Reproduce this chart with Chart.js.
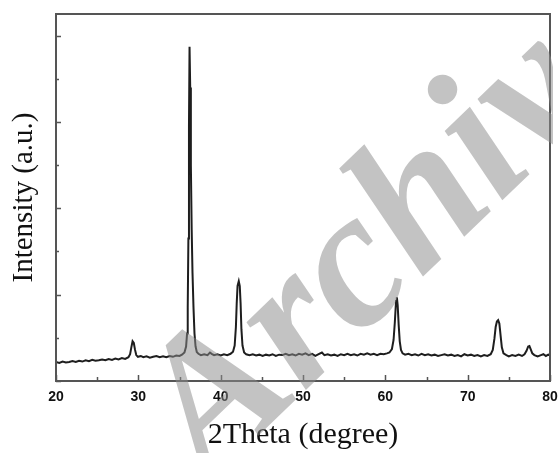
<!DOCTYPE html>
<html>
<head>
<meta charset="utf-8">
<script src="https://cdn.jsdelivr.net/npm/chart.js@4.4.1/dist/chart.umd.min.js"></script>
<style>
  html, body { margin: 0; padding: 0; background: #fff; }
  #wrap { position: relative; width: 560px; height: 453px; overflow: hidden; }
  #chart { position: absolute; left: 0; top: 0; }
  #wmClip { position: absolute; left: 0; top: 0; width: 553px; height: 453px; overflow: hidden; pointer-events: none; }
  #wm {
    position: absolute; left: 188px; top: 328px;
    transform-origin: 0 134px; transform: rotate(-44deg);
    font: italic bold 196px 'Liberation Serif', serif; line-height: 1;
    color: rgba(140, 140, 140, 0.52); white-space: nowrap;
  }
</style>
</head>
<body>
<div id="wrap">
  <canvas id="chart" width="560" height="453"></canvas>
  <div id="wmClip"><div id="wm">Archive</div></div>
</div>
<script>
// 2Theta positions (degree) and intensity (a.u.)
const twoTheta = [
  20.0, 20.4, 20.8, 21.2, 21.6, 22.0, 22.4, 22.8, 23.2, 23.6, 24.0, 24.4, 24.8, 25.2, 25.6,
  26.0, 26.4, 26.8, 27.2, 27.6, 28.0, 28.4, 28.8, 29.0, 29.15, 29.3, 29.45, 29.6, 29.75, 29.95,
  30.3, 30.6, 31.0, 31.4, 31.8, 32.2, 32.6, 33.0, 33.4, 33.8, 34.2, 34.6, 35.0, 35.3, 35.6,
  35.8, 35.92, 36.0, 36.08, 36.15, 36.22, 36.3, 36.38, 36.48, 36.58, 36.7, 36.82, 36.95, 37.1,
  37.3, 37.6, 38.0, 38.4, 38.7, 38.9, 39.2, 39.6, 40.0, 40.4, 40.8, 41.2, 41.5, 41.7, 41.85,
  41.95, 42.05, 42.2, 42.32, 42.42, 42.52, 42.65, 42.85, 43.1, 43.5, 43.9, 44.3, 44.7, 45.1, 45.5,
  45.9, 46.3, 46.7, 47.1, 47.5, 47.9, 48.3, 48.7, 49.1, 49.5, 49.9, 50.3, 50.7, 51.1, 51.5,
  51.9, 52.3, 52.6, 53.0, 53.4, 53.8, 54.2, 54.6, 55.0, 55.4, 55.8, 56.2, 56.6, 57.0, 57.4,
  57.8, 58.2, 58.6, 59.0, 59.4, 59.8, 60.2, 60.5, 60.8, 61.0, 61.15, 61.3, 61.4, 61.5, 61.62,
  61.75, 61.9, 62.1, 62.4, 62.8, 63.2, 63.6, 64.0, 64.4, 64.8, 65.2, 65.6, 66.0, 66.4, 66.8,
  67.2, 67.6, 68.0, 68.4, 68.8, 69.2, 69.6, 70.0, 70.4, 70.8, 71.2, 71.6, 72.0, 72.4, 72.8,
  73.05, 73.25, 73.4, 73.55, 73.7, 73.85, 74.0, 74.15, 74.35, 74.7, 75.0, 75.4, 75.8, 76.2, 76.6,
  76.9, 77.15, 77.35, 77.5, 77.65, 77.85, 78.1, 78.5, 78.9, 79.2, 79.5, 79.8, 80.0
];
const intensity = [
  0.44, 0.42, 0.45, 0.43, 0.44, 0.46, 0.44, 0.47, 0.45, 0.48, 0.46, 0.49, 0.47, 0.48, 0.50,
  0.48, 0.51, 0.49, 0.52, 0.50, 0.53, 0.51, 0.55, 0.62, 0.78, 0.92, 0.88, 0.72, 0.60, 0.56,
  0.58, 0.55, 0.57, 0.54, 0.56, 0.58, 0.55, 0.57, 0.55, 0.58, 0.56, 0.59, 0.58, 0.61, 0.66,
  0.80, 1.10, 1.70, 3.30, 5.90, 7.74, 6.80, 5.00, 3.50, 2.50, 1.70, 1.10, 0.80, 0.67,
  0.63, 0.60, 0.62, 0.60, 0.66, 0.63, 0.60, 0.62, 0.59, 0.62, 0.60, 0.63, 0.68, 0.82, 1.25,
  1.80, 2.20, 2.31, 2.20, 1.80, 1.20, 0.82, 0.66, 0.62, 0.60, 0.62, 0.59, 0.61, 0.58, 0.61,
  0.59, 0.62, 0.58, 0.61, 0.60, 0.63, 0.60, 0.62, 0.59, 0.63, 0.61, 0.64, 0.60, 0.63, 0.58,
  0.62, 0.66, 0.60, 0.62, 0.59, 0.61, 0.58, 0.62, 0.60, 0.63, 0.60, 0.62, 0.59, 0.63, 0.61,
  0.64, 0.61, 0.63, 0.60, 0.63, 0.62, 0.64, 0.66, 0.74, 0.95, 1.35, 1.85, 1.94, 1.75, 1.30,
  0.92, 0.72, 0.64, 0.61, 0.63, 0.60, 0.62, 0.59, 0.63, 0.60, 0.62, 0.59, 0.61, 0.58, 0.60,
  0.62, 0.59, 0.61, 0.58, 0.60, 0.57, 0.62, 0.59, 0.61, 0.58, 0.60, 0.57, 0.60, 0.58, 0.62,
  0.72, 0.98, 1.25, 1.38, 1.41, 1.33, 1.05, 0.78, 0.64, 0.60, 0.57, 0.60, 0.58, 0.61, 0.58,
  0.62, 0.70, 0.80, 0.81, 0.74, 0.64, 0.60, 0.57, 0.60, 0.62, 0.58, 0.61, 0.60
];
const xTickMarks = [20, 25, 30, 35, 40, 45, 50, 55, 60, 65, 70, 75, 80];
const yTickMarks = [0, 1, 2, 3, 4, 5, 6, 7, 8];

const FRAME = '#555';
const SERIF = "'Liberation Serif', 'Times New Roman', serif";

// inward ticks and the closed frame, placed through the chart's scales
const framePlugin = {
  id: 'frame',
  afterDatasetsDraw(chart) {
    const { ctx, chartArea: a, scales: { x, y } } = chart;
    ctx.save();
    ctx.strokeStyle = FRAME;
    ctx.lineWidth = 1.5;
    ctx.beginPath();
    xTickMarks.forEach((v) => {
      const px = Math.round(x.getPixelForValue(v)) + 0.5;
      const len = v % 10 === 0 ? 6 : 4;
      ctx.moveTo(px, a.bottom);
      ctx.lineTo(px, a.bottom - len);
    });
    yTickMarks.forEach((v) => {
      const py = Math.round(y.getPixelForValue(v)) + 0.5;
      const len = v % 2 === 0 ? 5 : 3;
      ctx.moveTo(a.left, py);
      ctx.lineTo(a.left + len, py);
    });
    ctx.stroke();
    ctx.lineWidth = 2;
    ctx.strokeRect(a.left, a.top, a.right - a.left, a.bottom - a.top);
    ctx.restore();
  },
};

new Chart(document.getElementById('chart'), {
  type: 'line',
  data: {
    datasets: [{
      data: twoTheta.map((t, i) => ({ x: t, y: intensity[i] })),
      borderColor: '#1e1e1e',
      borderWidth: 2,
      pointRadius: 0,
      tension: 0,
      fill: false,
    }],
  },
  options: {
    responsive: false,
    animation: false,
    devicePixelRatio: 1,
    layout: { padding: { top: 14, right: 10, left: 0, bottom: 0 } },
    plugins: { legend: { display: false }, tooltip: { enabled: false } },
    scales: {
      x: {
        type: 'linear',
        min: 20,
        max: 80,
        afterFit: (s) => { s.height = 72; s.paddingLeft = 0; s.paddingRight = 0; },
        ticks: {
          stepSize: 10,
          padding: 8,
          color: '#111',
          font: { family: "'Liberation Sans', Arial, sans-serif", size: 14, weight: 'bold' },
        },
        grid: { display: false, drawTicks: false },
        border: { display: true, color: FRAME, width: 2 },
        title: {
          display: true,
          text: '2Theta (degree)',
          color: '#111',
          font: { family: SERIF, size: 30 },
          padding: { top: 0, bottom: 0 },
        },
      },
      y: {
        min: 0,
        max: 8.5,
        afterFit: (s) => { s.width = 56; },
        ticks: { display: false },
        grid: { display: false, drawTicks: false },
        border: { display: true, color: FRAME, width: 2 },
        title: {
          display: true,
          text: 'Intensity (a.u.)',
          color: '#111',
          font: { family: SERIF, size: 29 },
          padding: { top: 7, bottom: 0 },
        },
      },
    },
  },
  plugins: [framePlugin],
});
</script>
</body>
</html>
